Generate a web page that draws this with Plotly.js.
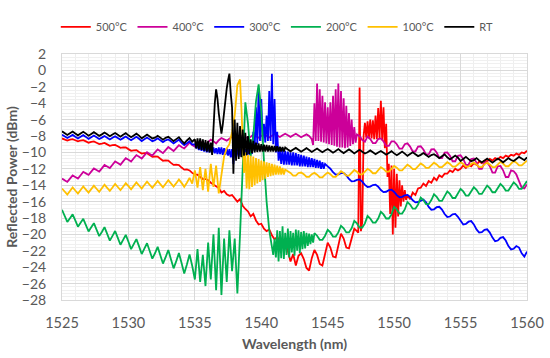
<!DOCTYPE html>
<html><head><meta charset="utf-8">
<script src="https://cdn.plot.ly/plotly-3.0.1.min.js"></script>
<style>html,body{margin:0;padding:0;background:#fff;} #chart{width:550px;height:358px;}</style>
</head><body><div id="chart"></div>
<script>
// Common wavelength grid (nm)
const wavelength = [
1525,1525.2,1525.4,1525.6,1525.8, 1526,1526.2,1526.4,1526.6,1526.8,
1527,1527.2,1527.4,1527.6,1527.8, 1528,1528.2,1528.4,1528.6,1528.8,
1529,1529.2,1529.4,1529.6,1529.8, 1530,1530.2,1530.4,1530.6,1530.8,
1531,1531.2,1531.4,1531.6,1531.8, 1532,1532.2,1532.4,1532.6,1532.8,
1533,1533.2,1533.4,1533.6,1533.8, 1534,1534.2,1534.4,1534.6,1534.8,
1535,1535.2,1535.4,1535.6,1535.8, 1536,1536.2,1536.4,1536.6,1536.8,
1537,1537.2,1537.4,1537.6,1537.8, 1538,1538.2,1538.4,1538.6,1538.8,
1539,1539.2,1539.4,1539.6,1539.8, 1540,1540.2,1540.4,1540.6,1540.8,
1541,1541.2,1541.4,1541.6,1541.8, 1542,1542.2,1542.4,1542.6,1542.8,
1543,1543.2,1543.4,1543.6,1543.8, 1544,1544.2,1544.4,1544.6,1544.8,
1545,1545.2,1545.4,1545.6,1545.8, 1546,1546.2,1546.4,1546.6,1546.8,
1547,1547.2,1547.4,1547.6,1547.8, 1548,1548.2,1548.4,1548.6,1548.8,
1549,1549.2,1549.4,1549.6,1549.8, 1550,1550.2,1550.4,1550.6,1550.8,
1551,1551.2,1551.4,1551.6,1551.8, 1552,1552.2,1552.4,1552.6,1552.8,
1553,1553.2,1553.4,1553.6,1553.8, 1554,1554.2,1554.4,1554.6,1554.8,
1555,1555.2,1555.4,1555.6,1555.8, 1556,1556.2,1556.4,1556.6,1556.8,
1557,1557.2,1557.4,1557.6,1557.8, 1558,1558.2,1558.4,1558.6,1558.8,
1559,1559.2,1559.4,1559.6,1559.8, 1560];

const seriesNames = ['500°C','400°C','300°C','200°C','100°C','RT'];

// ---- 500°C ----
const p500C = [
-8.3,-8.42,-8.55,-8.45,-8.38, -8.52,-8.65,-8.55,-8.5,-8.66,
-8.82,-8.72,-8.66,-8.82,-8.98, -8.92,-8.85,-9.02,-9.2,-9.12,
-9.08,-9.26,-9.45,-9.4,-9.38, -9.6,-9.8,-9.74,-9.72,-9.95,
-10.15,-10.1,-10.1,-10.33,-10.55, -10.5,-10.52,-10.78,-11.02,-10.98,
-11.0,-11.28,-11.52,-11.5,-11.56, -11.85,-12.1,-12.08,-12.2,-12.5,
-12.7,-12.72,-12.95,-13.25,-13.25, -13.4,-13.7,-13.95,-14.1,-14.35,
-14.9,-14.7,-15.1,-15.3,-15.2, -15.6,-16.0,-15.7,-16.5,-16.9,
-17.2,-17.8,-17.5,-18.3,-18.8, -18.7,-19.3,-19.6,-19.4,-20.1,
-20.6,-20.3,-21.0,-21.5,-21.2, -22.0,-23.3,-22.4,-23.8,-22.6,
-22.3,-23.0,-24.1,-24.4,-22.9, -21.9,-22.5,-23.6,-23.8,-22.4,
-21.0,-21.6,-22.7,-22.8,-21.5, -19.9,-20.5,-21.6,-21.7,-20.4,
-19.3,-19.6,-2.1,-18.5,-6.4, -6.2,-6.0,-6.1,-5.5,-4.6,
-3.7,-4.5,-6.5,-11.4,-11.6, -12.0,-12.6,-13.4,-14.0,-14.6,
-15.2,-15.7,-14.9,-15.2,-14.4, -14.3,-13.8,-14.1,-13.5,-13.7,
-13.1,-13.4,-12.8,-13.0,-12.6, -12.6,-12.2,-12.4,-12.0,-12.2,
-12.0,-11.6,-11.9,-11.5,-11.7, -11.3,-11.5,-11.1,-11.3,-11.0,
-11.1,-10.8,-11.0,-10.7,-10.85, -10.55,-10.7,-10.4,-10.55,-10.3,
-10.4,-10.15,-10.3,-10.0,-10.1, -9.8];
const mid500X = [1547.3,1547.5,1547.7,1547.9,1548.1,1548.3,1548.5,1548.7,1548.9,1549.1,1549.3,
                 1549.5,1549.7,1549.9,1550.1,1550.3,1550.5,1550.7,1550.9];
const mid500Y = [-19.8,-19.6,-8.0,-8.2,-8.3,-8.3,-8.4,-8.4,-8.3,-8.5,-9.5,
                 -13.0,-17.5,-20.0,-19.2,-17.8,-16.6,-16.0,-15.8];

// ---- 400°C ----
const p400C = [
-13.2,-13.4,-13.6,-13.2,-12.8, -13.0,-13.19,-12.78,-12.37,-12.56,
-12.75,-12.35,-11.95,-12.15,-12.35, -11.95,-11.54,-11.73,-11.92,-11.51,
-11.1,-11.3,-11.5,-11.1,-10.7, -10.9,-11.11,-10.72,-10.33,-10.54,
-10.75,-10.36,-9.97,-10.18,-10.39, -10.0,-9.63,-9.86,-10.09,-9.72,
-9.35,-9.59,-9.83,-9.47,-9.11, -9.35,-9.52,-9.17,-8.81,-9.11,
-9.3,-8.99,-8.68,-8.87,-9.06, -8.75,-8.45,-8.63,-8.9,-8.51,
-8.25,-8.41,-8.57,-8.33,-8.09, -8.25,-8.42,-8.19,-7.96,-8.13,
-8.28,-8.08,-7.86,-8.04,-8.22, -8.0,-7.8,-7.99,-8.18,-7.97,
-7.77,-7.94,-8.12,-7.92,-7.73, -7.9,-8.1,-7.9,-7.72,-7.93,
-8.15,-7.97,-7.8,-8.0,-8.4, -4.0,-1.6,-2.3,-3.1,-3.9,
-4.5,-3.9,-3.1,-2.3,-1.6, -2.5,-3.4,-4.3,-5.2,-6.0,
-6.9,-7.8,-8.0,-8.5,-8.7, -8.05,-8.37,-8.86,-8.86,-8.37,
-8.3,-8.65,-9.2,-9.2,-8.65, -8.65,-9.0,-9.55,-9.55,-9.0,
-8.9,-9.29,-9.89,-9.89,-9.29, -9.25,-9.64,-10.24,-10.24,-9.64,
-9.6,-10.02,-10.68,-10.68,-10.02, -10.0,-10.42,-11.08,-11.08,-10.42,
-10.35,-10.8,-11.52,-11.52,-10.8, -10.75,-11.24,-12.01,-12.01,-11.24,
-11.2,-11.69,-12.46,-12.46,-11.69, -11.65,-12.18,-13.0,-13.0,-12.18,
-12.3,-12.7,-13.5,-14.3,-14.4, -13.9];
const mid400X = [1543.9,1544.1,1544.3,1544.5,1544.7,1544.9,1545.1,1545.3,1545.5,
                 1545.7,1545.9,1546.1,1546.3,1546.5,1546.7,1546.9,1547.1];
const mid400Y = [-9.1,-8.6,-8.6,-8.7,-8.8,-8.9,-9.0,-9.1,-9.2,
                 -9.3,-9.4,-9.4,-9.5,-9.4,-9.2,-9.0,-8.8];

// ---- 300°C ----
const p300C = [
-7.85,-8.05,-8.25,-8.06,-7.87, -8.1,-8.3,-8.1,-7.9,-8.11,
-8.35,-8.15,-7.95,-8.16,-8.37, -8.2,-8.0,-8.21,-8.42,-8.22,
-8.05,-8.25,-8.46,-8.26,-8.06, -8.3,-8.51,-8.31,-8.1,-8.33,
-8.62,-8.4,-8.18,-8.41,-8.64, -8.5,-8.28,-8.51,-8.74,-8.53,
-8.42,-8.65,-8.9,-8.67,-8.45, -8.85,-9.1,-8.88,-8.65,-9.05,
-9.0,-9.1,-9.2,-9.2,-9.3, -9.3,-9.4,-9.4,-9.5,-9.4,
-9.4,-9.5,-9.5,-9.6,-9.6, -9.4,-9.4,-9.5,-9.5,-9.6,
-9.6,-9.7,-7.5,-4.5,-2.2, -3.5,-6.5,-5.5,-2.5,-0.4,
-3.5,-7.5,-9.6,-9.7,-9.8, -9.9,-10.0,-10.0,-10.1,-10.2,
-10.3,-10.4,-10.5,-10.6,-10.7, -10.8,-10.9,-11.0,-11.2,-11.4,
-11.7,-11.99,-12.42,-12.71,-12.69, -12.53,-12.52,-12.8,-13.24,-13.53,
-13.51,-13.35,-13.3,-13.56,-13.96, -14.22,-14.17,-13.98,-13.93,-14.18,
-14.59,-14.84,-14.8,-14.6,-14.55, -14.81,-15.21,-15.47,-15.42,-15.23,
-15.18,-15.43,-15.84,-16.09,-16.05, -15.85,-15.75,-16.09,-16.64,-16.99,
-16.94,-16.68,-16.63,-16.98,-17.52, -17.87,-17.82,-17.56,-17.51,-17.86,
-18.41,-18.8,-18.72,-18.45,-18.38, -18.78,-19.39,-19.78,-19.72,-19.45,
-19.38,-19.78,-20.39,-20.83,-20.75, -20.42,-20.33,-20.75,-21.42,-21.83,
-21.75,-21.42,-21.6,-22.3,-22.7, -22.1];
const mid300X = [1535.1,1535.3,1535.5,1535.7,1535.9,1536.1,1536.3,1536.5,1536.7,1536.9,
                 1537.1,1537.3,1537.5,1537.7,1537.9,1538.1,1538.3,1538.5,1538.7,1538.9,
                 1539.1,1539.3,1539.5,1539.7,1539.9,1540.1,1540.3,1540.5,1540.7,1540.9,
                 1541.1,1541.3,1541.5,1541.7,1541.9,1542.1,1542.3,1542.5,1542.7,1542.9,
                 1543.1,1543.3,1543.5,1543.7,1543.9,1544.1,1544.3,1544.5,1544.7];
const mid300Y = [-9.5,-9.7,-9.8,-9.9,-10.0,-10.0,-10.1,-10.1,-10.2,-10.2,
                 -10.3,-10.3,-10.4,-10.6,-11.4,-10.6,-10.5,-10.5,-10.4,-10.4,
                 -10.3,-10.2,-9.8,-9.0,-8.6,-8.6,-8.8,-8.6,-8.6,-9.0,
                 -10.0,-11.0,-11.4,-11.5,-11.5,-11.5,-11.6,-11.6,-11.6,-11.7,
                 -11.7,-11.7,-11.8,-11.8,-11.8,-11.9,-11.9,-12.0,-12.0];

// ---- 200°C ----
const p200C = [
-17.0,-17.74,-18.48,-18.02,-17.56, -18.3,-19.06,-18.58,-18.1,-18.86,
-19.65,-19.14,-18.63,-19.42,-20.21, -19.7,-19.12,-19.94,-20.76,-20.18,
-19.58,-20.42,-21.26,-20.66,-20.06, -20.9,-21.79,-21.18,-20.57,-21.46,
-22.4,-21.74,-21.08,-22.02,-22.96, -22.3,-21.52,-22.54,-23.56,-22.78,
-21.9,-23.02,-24.14,-23.26,-22.28, -23.5,-24.78,-23.66,-22.44,-23.82,
-25.5,-21.8,-25.8,-22.5,-26.3, -21.0,-25.5,-20.0,-26.8,-19.2,
-27.4,-20.5,-25.8,-19.5,-24.5, -20.5,-27.2,-20.0,-11.5,-3.9,
-6.5,-10.5,-8.0,-3.8,-1.7, -5.0,-11.0,-16.0,-19.5,-21.3,
-20.5,-19.5,-19.6,-19.0,-19.8, -19.3,-19.6,-19.8,-19.4,-19.5,
-19.7,-19.6,-19.8,-19.9,-20.0, -19.85,-20.16,-20.66,-20.66,-20.16,
-19.45,-19.76,-20.26,-20.26,-19.76, -18.95,-19.26,-19.76,-19.76,-19.26,
-18.35,-18.66,-19.16,-19.16,-18.66, -17.75,-18.06,-18.56,-18.56,-18.06,
-17.25,-17.56,-18.06,-18.06,-17.56, -16.65,-16.96,-17.46,-17.46,-16.96,
-16.05,-16.36,-16.86,-16.86,-16.36, -15.5,-15.81,-16.31,-16.31,-15.81,
-15.1,-15.41,-15.91,-15.91,-15.41, -14.75,-15.06,-15.56,-15.56,-15.06,
-14.45,-14.76,-15.26,-15.26,-14.76, -14.25,-14.56,-15.06,-15.06,-14.56,
-14.05,-14.36,-14.86,-14.86,-14.36, -13.85,-14.16,-14.66,-14.66,-14.16,
-13.65,-13.96,-14.46,-14.46,-13.96, -13.5];
const mid200X = [1540.9,1541.1,1541.3,1541.5,1541.7,1541.9,1542.1,1542.3,
                 1542.5,1542.7,1542.9,1543.1,1543.3,1543.5,1543.7,1543.9];
const mid200Y = [-22.5,-22.8,-23.3,-22.9,-23.0,-22.5,-22.8,-22.2,
                 -22.6,-22.0,-22.3,-21.8,-21.7,-21.4,-21.2,-21.0];

// ---- 100°C ----
const p100C = [
-14.4,-14.77,-15.14,-14.71,-14.28, -14.65,-15.02,-14.59,-14.16,-14.53,
-14.9,-14.48,-14.05,-14.43,-14.8, -14.38,-13.95,-14.33,-14.7,-14.28,
-13.85,-14.22,-14.6,-14.18,-13.76, -14.12,-14.5,-14.08,-13.65,-14.04,
-14.4,-13.98,-13.56,-13.94,-14.32, -13.9,-13.48,-13.86,-14.25,-13.82,
-13.4,-13.78,-14.16,-13.75,-13.3, -13.72,-14.2,-13.7,-13.1,-13.8,
-12.2,-14.3,-11.8,-14.6,-12.0, -14.8,-11.4,-14.2,-11.6,-15.0,
-12.5,-10.5,-9.5,-9.0,-7.5, -5.5,-1.8,-1.1,-8.0,-10.0,
-10.3,-10.4,-10.5,-10.7,-10.8, -11.0,-11.1,-11.2,-11.3,-11.4,
-11.5,-11.6,-11.7,-11.9,-12.1, -12.3,-12.51,-12.84,-12.84,-12.51,
-12.45,-12.66,-12.99,-12.99,-12.66, -12.5,-12.71,-13.04,-13.04,-12.71,
-12.45,-12.66,-12.99,-12.99,-12.66, -12.3,-12.51,-12.84,-12.84,-12.51,
-12.15,-12.36,-12.69,-12.69,-12.36, -12.0,-12.21,-12.54,-12.54,-12.21,
-11.8,-12.01,-12.34,-12.34,-12.01, -11.65,-11.86,-12.19,-12.19,-11.86,
-11.5,-11.71,-12.04,-12.04,-11.71, -11.35,-11.56,-11.89,-11.89,-11.56,
-11.25,-11.46,-11.79,-11.79,-11.46, -11.2,-11.41,-11.74,-11.74,-11.41,
-11.2,-11.41,-11.74,-11.74,-11.41, -11.25,-11.46,-11.79,-11.79,-11.46,
-11.25,-11.46,-11.79,-11.79,-11.46, -11.15,-11.36,-11.69,-11.69,-11.36,
-11.05,-11.26,-11.59,-11.59,-11.26, -11.0];
const mid100X = [1538.5,1538.7,1538.9,1539.1,1539.3,1539.5,1539.7,1539.9,1540.1,
                 1540.3,1540.5,1540.7,1540.9,1541.1,1541.3,1541.5,1541.7];
const mid100Y = [-4.5,-12.5,-14.4,-14.5,-14.2,-14.0,-13.8,-13.6,-13.4,
                 -13.2,-13.0,-12.9,-12.8,-12.7,-12.7,-12.7,-12.7];

// ---- RT ----
const pRT = [
-7.43,-7.65,-7.87,-7.66,-7.45, -7.7,-7.92,-7.7,-7.48,-7.71,
-7.97,-7.75,-7.53,-7.76,-7.98, -7.8,-7.58,-7.8,-8.03,-7.82,
-7.63,-7.85,-8.08,-7.86,-7.65, -7.92,-8.15,-7.93,-7.72,-7.95,
-8.28,-8.05,-7.83,-8.06,-8.3, -8.2,-7.97,-8.2,-8.45,-8.22,
-8.1,-8.35,-8.62,-8.38,-8.15, -8.55,-8.9,-8.55,-8.25,-8.7,
-8.4,-8.3,-8.3,-8.4,-8.5, -8.6,-8.8,-6.0,-2.3,-5.2,
-7.7,-5.0,-2.2,-0.4,-4.5, -6.0,-6.4,-6.8,-7.2,-7.6,
-8.0,-8.4,-8.6,-8.8,-8.9, -9.0,-9.05,-9.1,-9.15,-9.2,
-9.2,-9.25,-9.3,-9.35,-9.4, -9.65,-9.87,-9.66,-9.45,-9.67,
-9.92,-9.7,-9.48,-9.71,-9.94, -9.75,-9.53,-9.76,-9.98,-9.77,
-9.58,-9.8,-10.03,-9.82,-9.6, -9.85,-10.08,-9.86,-9.64,-9.87,
-10.12,-9.9,-9.68,-9.91,-10.14, -9.98,-9.76,-9.99,-10.22,-10.0,
-9.83,-10.05,-10.28,-10.07,-9.85, -10.12,-10.35,-10.13,-9.9,-10.15,
-10.42,-10.2,-9.98,-10.22,-10.45, -10.3,-10.08,-10.32,-10.55,-10.33,
-10.22,-10.45,-10.7,-10.47,-10.24, -10.6,-10.85,-10.62,-10.38,-10.64,
-11.05,-10.8,-10.55,-10.82,-11.07, -10.95,-10.7,-10.97,-11.22,-11.0,
-10.75,-11.0,-11.25,-11.0,-10.75, -10.95,-11.2,-10.95,-10.7,-10.93,
-11.05,-10.8,-10.55,-10.75,-10.95, -10.6];
const midRTX = [1535.1,1535.3,1535.5,1535.7,1535.9,1536.1,1536.3,1536.5,1536.7,1536.9,
                1537.1,1537.3,1537.5,1537.7,1537.9,1538.1,1538.3,1538.5,1538.7,1538.9,
                1539.1,1539.3,1539.5,1539.7,1539.9,1540.1,1540.3,1540.5,1540.7,1540.9,
                1541.1,1541.3,1541.5,1541.7];
const midRTY = [-9.5,-9.6,-9.7,-9.8,-9.9,-10.0,-10.3,-4.0,-3.4,-6.6,
                -6.6,-3.4,-1.2,-2.8,-12.6,-11.0,-10.8,-10.6,-10.4,-10.3,
                -10.2,-10.1,-10.0,-9.95,-9.9,-9.9,-9.9,-9.9,-9.9,-9.9,
                -9.9,-9.9,-9.9,-9.9];

const seriesValues = [p500C, p400C, p300C, p200C, p100C, pRT];
const seriesMidX = [mid500X, mid400X, mid300X, mid200X, mid100X, midRTX];
const seriesMidY = [mid500Y, mid400Y, mid300Y, mid200Y, mid100Y, midRTY];
const seriesColors = ['#FF0000', '#CC0099', '#0000FF', '#00B050', '#FFC000', '#000000'];

const xTickVals = [1525,1530,1535,1540,1545,1550,1555,1560];
const yTickVals = [2,0,-2,-4,-6,-8,-10,-12,-14,-16,-18,-20,-22,-24,-26,-28];

function mergeSamples(xs, ys, mx, my) {
  const pts = xs.map((x, i) => [x, ys[i]]).concat(mx.map((x, i) => [x, my[i]]));
  pts.sort((a, b) => a[0] - b[0]);
  return {x: pts.map(p => p[0]), y: pts.map(p => p[1])};
}

const traces = seriesNames.map((name, k) => {
  const m = mergeSamples(wavelength, seriesValues[k], seriesMidX[k], seriesMidY[k]);
  return {type: 'scatter', mode: 'lines', name: name, x: m.x, y: m.y,
          line: {color: seriesColors[k], width: 1.8}};
});

const FONT = 'Lato, "Liberation Sans", Arial, sans-serif';
const layout = {
  width: 550, height: 358,
  margin: {l: 62, r: 23, t: 37, b: 58},
  paper_bgcolor: '#ffffff', plot_bgcolor: '#ffffff',
  font: {family: FONT, color: '#595959'},
  showlegend: true,
  legend: {orientation: 'h', x: 0.463, xanchor: 'center', y: 1.11, yanchor: 'middle',
           font: {size: 11, color: '#595959'}, bgcolor: 'rgba(0,0,0,0)'},
  xaxis: {
    range: [1525, 1560], tickvals: xTickVals, ticks: '',
    showgrid: true, gridcolor: '#d9d9d9', gridwidth: 1,
    minor: {dtick: 1, tick0: 1525, showgrid: true, gridcolor: '#eeeeee', gridwidth: 1},
    showline: true, linecolor: '#d9d9d9', linewidth: 1, mirror: true, zeroline: false,
    tickfont: {size: 14.5, color: '#595959'}, ticklabelstandoff: 10,
    title: {text: 'Wavelength (nm)', font: {size: 14, color: '#595959', weight: 'bold'}, standoff: 8}
  },
  yaxis: {
    range: [-28, 2], tickvals: yTickVals, ticks: '',
    showgrid: true, gridcolor: '#d9d9d9', gridwidth: 1,
    minor: {dtick: 0.4, tick0: 2, showgrid: true, gridcolor: '#f0f0f0', gridwidth: 1},
    showline: true, linecolor: '#d9d9d9', linewidth: 1, mirror: true, zeroline: false,
    tickfont: {size: 14, color: '#595959'}, ticklabelstandoff: 12,
    title: {text: 'Reflected Power (dBm)', font: {size: 14, color: '#595959', weight: 'bold'}, standoff: 0}
  }
};

Plotly.newPlot('chart', traces, layout, {displayModeBar: false, staticPlot: true});
</script>
</body></html>
